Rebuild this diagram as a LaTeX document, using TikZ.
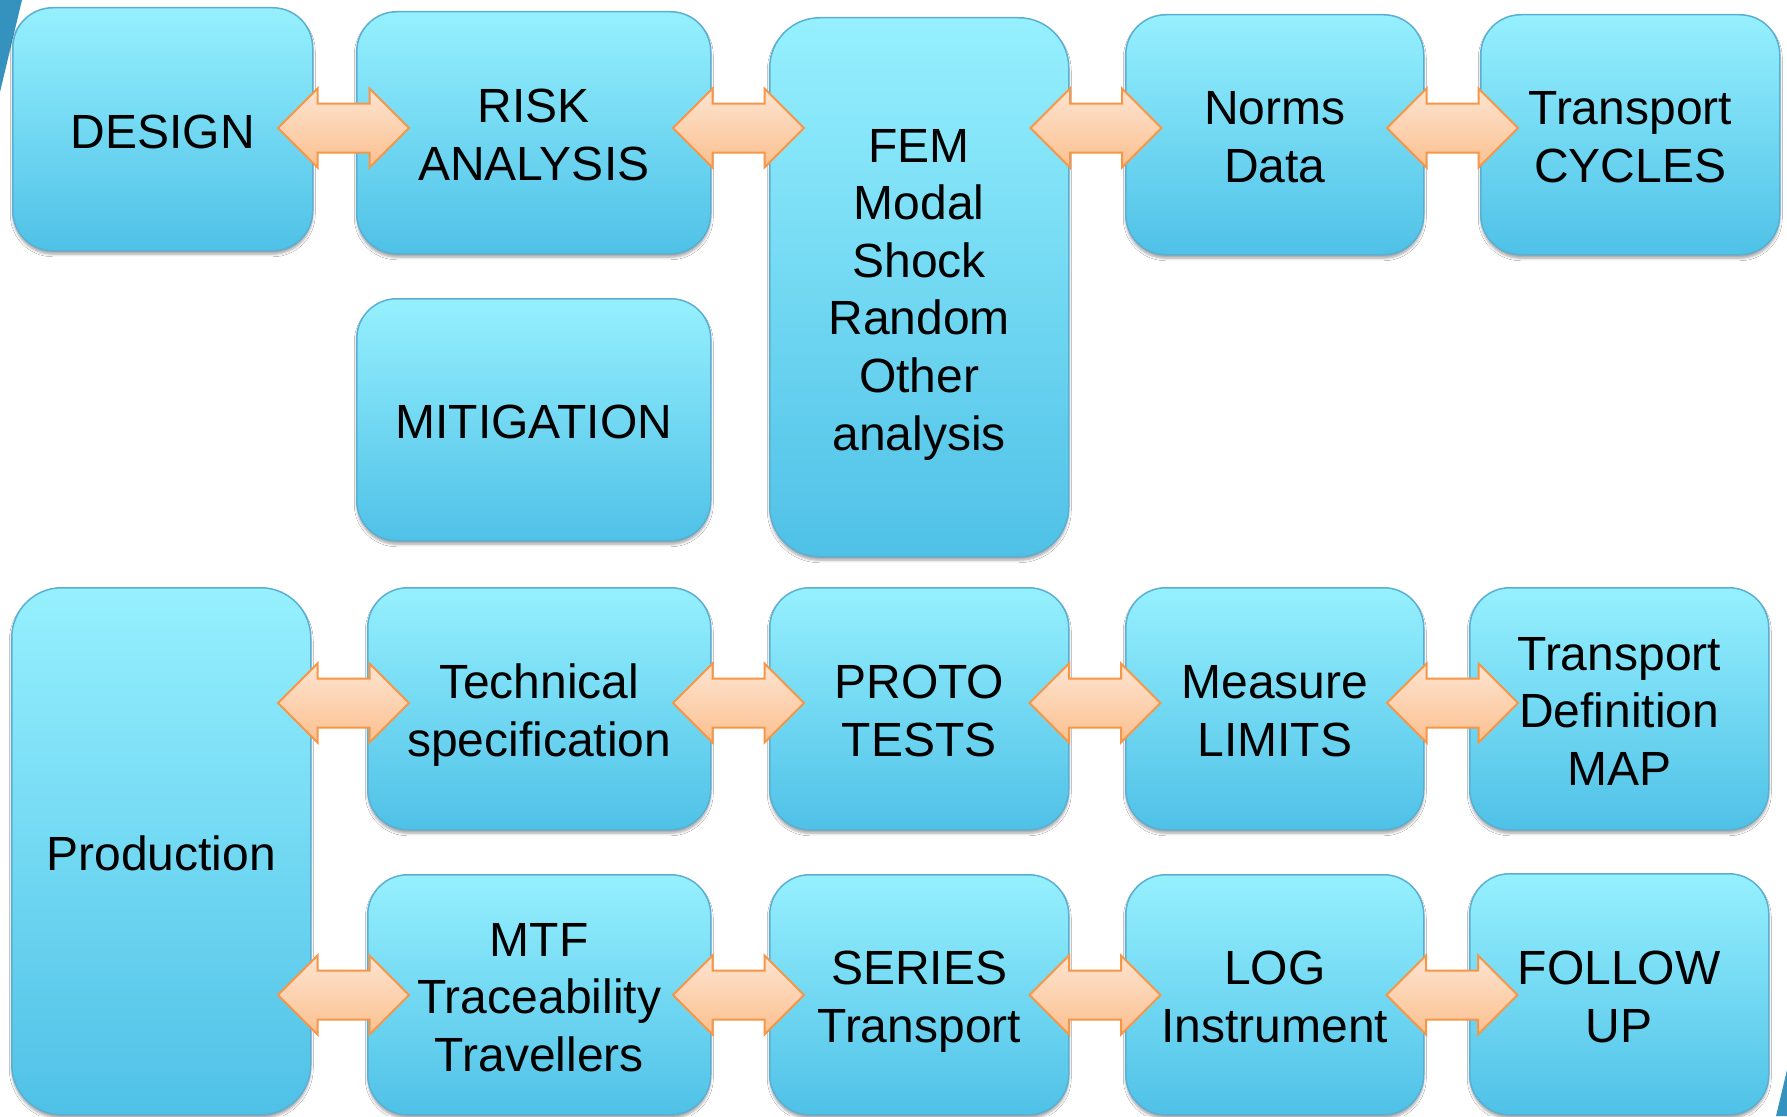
\documentclass[tikz,border=0pt]{standalone}
\usepackage{fontspec}
\setmainfont{Liberation Sans}
\usetikzlibrary{shapes.arrows,shadows.blur}
\definecolor{boxtop}{HTML}{96F0FE}
\definecolor{boxbot}{HTML}{4FC1E7}
\definecolor{boxline}{HTML}{5AAFD3}
\definecolor{arrtop}{HTML}{FDE4D1}
\definecolor{arrbot}{HTML}{FBC08F}
\definecolor{arrline}{HTML}{F79646}
\definecolor{slash}{HTML}{3592BF}
\newcommand{\myTopStrut}{\rule{0pt}{47.8pt}}
\newcommand{\myBotStrut}{\rule[-9.8pt]{0pt}{9.8pt}}
\newcommand{\bt}[1]{\myTopStrut#1\myBotStrut}
\begin{document}
\begin{tikzpicture}[x=1pt,y=-1pt,
  box/.style={draw=boxline, line width=1.5pt, top color=boxtop, bottom color=boxbot,
    rounded corners=40pt, anchor=north west, inner sep=0pt, align=center,
    font=\fontsize{48}{57.6}\selectfont,
    blur shadow={shadow xshift=0pt, shadow yshift=-3.5pt, shadow blur radius=2.5pt, shadow opacity=35}},
  tallbox/.style={box, rounded corners=50pt},
  barrow/.style={shape=double arrow, draw=arrline, line width=2pt, top color=arrtop, bottom color=arrbot,
    minimum height=131pt, inner xsep=0pt, inner ysep=23.5pt,
    double arrow head extend=15pt, double arrow tip angle=90}
]
\useasboundingbox (0,0) rectangle (1787,1116);
\fill[white] (0,0) rectangle (1787,1116);
% decorative slashes
\fill[slash] (0,0) -- (22,0) -- (0,92) -- cycle;
\fill[slash] (1787,1070) -- (1787,1116) -- (1776,1116) -- cycle;

% row 1
\node[box, minimum width=300pt, minimum height=243pt] (design) at (12,7) {\bt{DESIGN}};
\node[box, minimum width=354pt, minimum height=242pt] (risk) at (356,11) {\bt{RISK\\ANALYSIS}};
\node[tallbox, minimum width=299pt, minimum height=539pt] (fem) at (769,17) {\bt{FEM\\Modal\\Shock\\Random\\Other\\analysis}};
\node[box, minimum width=298pt, minimum height=240pt] (norms) at (1125,14) {\bt{Norms\\Data}};
\node[box, minimum width=299pt, minimum height=240pt] (tcyc) at (1480,14) {\bt{Transport\\CYCLES}};
\node[box, minimum width=354pt, minimum height=242pt] (mitig) at (356,298) {\bt{MITIGATION}};

% row 2
\node[tallbox, minimum width=299pt, minimum height=527pt] (prod) at (11,587) {\bt{Production}};
\node[box, minimum width=343pt, minimum height=242pt] (tech) at (367,587) {\bt{Technical\\specification}};
\node[box, minimum width=299pt, minimum height=242pt] (proto) at (769,587) {\bt{PROTO\\TESTS}};
\node[box, minimum width=298pt, minimum height=242pt] (meas) at (1125,587) {\bt{Measure\\LIMITS}};
\node[box, minimum width=299pt, minimum height=242pt] (tdef) at (1469,587) {\bt{Transport\\Definition\\MAP}};

% row 3
\node[box, minimum width=343pt, minimum height=240pt] (mtf) at (367,874) {\bt{MTF\\Traceability\\Travellers}};
\node[box, minimum width=299pt, minimum height=240pt] (series) at (769,874) {\bt{SERIES\\Transport}};
\node[box, minimum width=298pt, minimum height=240pt] (log) at (1125,874) {\bt{LOG\\Instrument}};
\node[box, minimum width=299pt, minimum height=241pt] (follow) at (1469,873) {\bt{FOLLOW\\UP}};

% block arrows
\node[barrow] (a1) at (343.5,128) {};
\node[barrow] (a2) at (738.5,128) {};
\node[barrow] (a3) at (1096,128) {};
\node[barrow] (a4) at (1452.5,128) {};
\node[barrow] (b1) at (343.5,703) {};
\node[barrow] (b2) at (738.5,703) {};
\node[barrow] (b3) at (1095,703) {};
\node[barrow] (b4) at (1452.5,703) {};
\node[barrow] (c1) at (343.5,995) {};
\node[barrow] (c2) at (738.5,995) {};
\node[barrow] (c3) at (1095,995) {};
\node[barrow] (c4) at (1452,995) {};
\end{tikzpicture}
\end{document}
